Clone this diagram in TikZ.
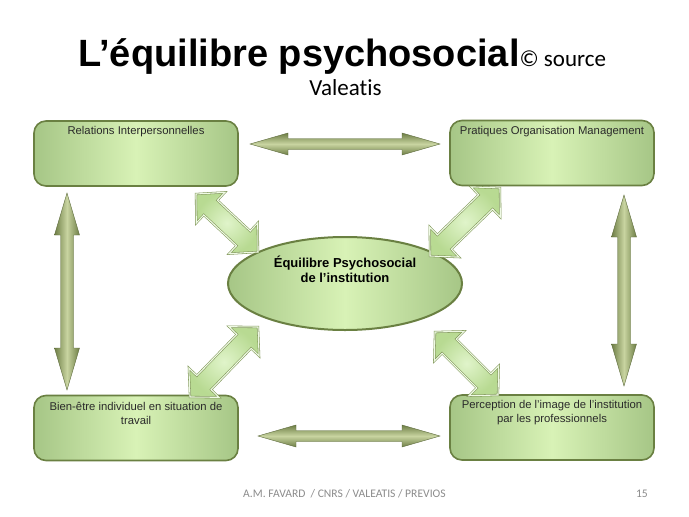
\documentclass[tikz,border=0pt]{standalone}
\usepackage{fontspec}
\setmainfont{Liberation Sans}
\newfontfamily\calib[Ligatures=NoCommon]{Carlito}
\usetikzlibrary{shapes.geometric,calc}

\definecolor{boxedge}{HTML}{A6C686}
\definecolor{boxmid}{HTML}{D8F2B6}
\definecolor{boxline}{HTML}{6A8042}
\definecolor{olivedark}{HTML}{6E7E46}
\definecolor{olivelight}{HTML}{C8D4A0}
\definecolor{diagfill}{HTML}{B8DA92}
\definecolor{diagmid}{HTML}{E0F4CA}
\definecolor{diagline}{HTML}{7E9456}
\definecolor{txtgray}{HTML}{2A2A2A}
\definecolor{footgray}{HTML}{8C8C8C}

% #1 style, #2 tip a, #3 tip b, #4 head length, #5 head half width, #6 shaft half width
\newcommand\blockarrow[6]{%
 \path[#1] (#2)
  -- ($(#2)!#4!(#3)!#5!90:(#3)$) -- ($(#2)!#4!(#3)!#6!90:(#3)$)
  -- ($(#3)!#4!(#2)!#6!-90:(#2)$) -- ($(#3)!#4!(#2)!#5!-90:(#2)$)
  -- (#3)
  -- ($(#3)!#4!(#2)!#5!90:(#2)$) -- ($(#3)!#4!(#2)!#6!90:(#2)$)
  -- ($(#2)!#4!(#3)!#6!-90:(#3)$) -- ($(#2)!#4!(#3)!#5!-90:(#3)$)
  -- cycle;}

\tikzset{
  box/.style={rectangle, rounded corners=12pt, draw=boxline, line width=1.6pt,
    left color=boxedge, right color=boxedge, middle color=boxmid,
    minimum width=#1, minimum height=65pt, inner sep=0pt},
  box/.default=204pt,
  boxtxt/.style={anchor=north, align=center, text=txtgray, inner sep=0pt,
    font=\fontsize{11.3}{14}\selectfont},
  centreell/.style={ellipse, draw=boxline, line width=2pt,
    left color=boxedge, right color=boxedge, middle color=boxmid,
    minimum width=234pt, minimum height=93pt, inner sep=0pt},
  darkV/.style={left color=olivedark, right color=olivedark, middle color=olivelight,
    draw=olivedark!85!black, line width=0.4pt},
  darkH/.style={top color=olivedark, bottom color=olivedark, middle color=olivelight,
    draw=olivedark!85!black, line width=0.4pt},
  diag/.style={inner color=diagmid, outer color=diagfill, draw=diagline,
    double=diagmid!50!white, double distance=1.1pt, line width=0.55pt, line join=miter},
}

\begin{document}
\begin{tikzpicture}[x=1pt, y=-1pt]
\fill[white] (0,0) rectangle (689,517);
\useasboundingbox (0,0) rectangle (689,517);

% title
\node[anchor=base west, inner sep=0pt] (title) at (78,66)
  {{\fontsize{38}{40}\selectfont\bfseries L’équilibre psychosocial}{\calib\fontsize{23}{26}\selectfont © source}};
\node[anchor=base, inner sep=0pt] (source) at (345.5,95)
  {\calib\fontsize{23}{26}\selectfont Valeatis};

% boxes
\node[box] (tl) at (136,153.5) {};
\node[box] (tr) at (552,153) {};
\node[box] (bl) at (136,428) {};
\node[box] (br) at (552,427.5) {};
\node[boxtxt] (tltxt) at ($(tl.north)+(0,5.5)$) {Relations Interpersonnelles};
\node[boxtxt] (trtxt) at ($(tr.north)+(0,6.5)$) {Pratiques Organisation Management};
\node[boxtxt] (bltxt) at ($(bl.north)+(0,7)$) {Bien-être individuel en situation de\\travail};
\node[boxtxt] (brtxt) at ($(br.north)+(0,6)$) {Perception de l’image de l’institution\\par les professionnels};

% centre ellipse
\node[centreell] (centre) at (345,283.5) {};
\node[anchor=base, align=center, inner sep=0pt, text=black,
  font=\fontsize{13}{15}\selectfont\bfseries] (centretxt) at (345,282)
  {Équilibre Psychosocial\\de l’institution};

% dark double arrows between boxes
\coordinate (ht1) at (250,144); \coordinate (ht2) at (440,144);
\coordinate (hb1) at (258,436); \coordinate (hb2) at (440,436);
\coordinate (vl1) at (67,193);  \coordinate (vl2) at (67,390);
\coordinate (vr1) at (624,195); \coordinate (vr2) at (624,386);
\blockarrow{darkH}{ht1}{ht2}{38pt}{11pt}{5.5pt}
\blockarrow{darkH}{hb1}{hb2}{38pt}{11pt}{5.5pt}
\blockarrow{darkV}{vl1}{vl2}{42pt}{12.5pt}{6.5pt}
\blockarrow{darkV}{vr1}{vr2}{42pt}{12.5pt}{6.5pt}

% light diagonal double arrows to the centre
\coordinate (d1a) at (196,194); \coordinate (d1b) at (258,252);
\coordinate (d2a) at (500,188); \coordinate (d2b) at (430,256);
\coordinate (d3a) at (258,327); \coordinate (d3b) at (190,397);
\coordinate (d4a) at (435,332); \coordinate (d4b) at (498,395);
\blockarrow{diag}{d1a}{d1b}{20pt}{21pt}{10pt}
\blockarrow{diag}{d2a}{d2b}{20pt}{21pt}{10pt}
\blockarrow{diag}{d3a}{d3b}{20pt}{21pt}{10pt}
\blockarrow{diag}{d4a}{d4b}{20pt}{21pt}{10pt}

% footer
\node[anchor=base west, inner sep=0pt, text=footgray, font=\calib\fontsize{11.6}{13}\selectfont]
  (footer) at (243,497) {A.M. FAVARD \ / CNRS / VALEATIS / PREVIOS};
\node[anchor=base east, inner sep=0pt, text=footgray, font=\calib\fontsize{11.6}{13}\selectfont]
  (pagenum) at (648,497) {15};
\end{tikzpicture}
\end{document}
